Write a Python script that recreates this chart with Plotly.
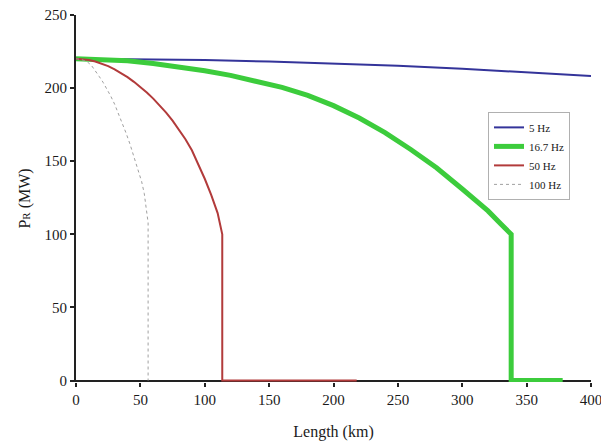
import plotly.graph_objects as go

# 5 Hz
x5 = [0, 50, 100, 150, 200, 250, 300, 350, 400]
y5 = [220, 219.8, 219.2, 218.2, 217, 215.3, 213.2, 211, 208.3]

# 16.7 Hz
x16 = [0, 20, 40, 60, 80, 100, 120, 140, 160, 180, 200, 220, 240, 260, 280,
       300, 320, 330, 338, 338, 378]
y16 = [220, 219.7, 218.7, 216.9, 214.6, 211.9, 208.7, 205, 200.5, 195, 188,
       179.5, 169.5, 158, 145.5, 131, 116, 107, 100, 0, 0]

# 50 Hz
x50 = [0, 5, 10, 15, 20, 25, 30, 35, 40, 45, 50, 55, 60, 65, 70, 75, 80, 85,
       90, 95, 100, 105, 110, 113.6, 113.6, 218]
y50 = [220, 219.8, 219.2, 218.2, 216.8, 215, 212.8, 210.3, 207.5, 204.3, 200.8,
       197, 192.8, 188.2, 183.2, 177.7, 171.7, 165, 157.5, 148, 138, 127, 114.5,
       100, 0, 0]

# 100 Hz
x100 = [0, 3, 6, 9, 12, 15, 18, 21, 24, 27, 30, 33, 36, 39, 42, 45, 48, 51,
        53, 55, 56, 56]
y100 = [220, 219.8, 219, 217.8, 215.5, 212, 208, 204, 199.5, 194.5, 189, 182.5,
        176, 169, 161.5, 153.5, 145.5, 136, 128, 115, 108, 0]

fig = go.Figure()
fig.add_trace(go.Scatter(x=x5, y=y5, mode="lines", name="5 Hz",
                         line=dict(color="#34349a", width=2)))
fig.add_trace(go.Scatter(x=x16, y=y16, mode="lines", name="16.7 Hz",
                         line=dict(color="#3ccc3c", width=5)))
fig.add_trace(go.Scatter(x=x50, y=y50, mode="lines", name="50 Hz",
                         line=dict(color="#b23b3b", width=2)))
fig.add_trace(go.Scatter(x=x100, y=y100, mode="lines", name="100 Hz",
                         line=dict(color="#a0a0a0", width=1, dash="dot")))

font_family = "Liberation Serif, DejaVu Serif, serif"
fig.update_layout(
    width=601, height=445,
    margin=dict(l=76, r=10, t=15, b=63, autoexpand=False),
    plot_bgcolor="white", paper_bgcolor="white",
    font=dict(family=font_family, size=15, color="#1a1a1a"),
    showlegend=True,
    legend=dict(x=0.80, y=0.736, xanchor="left", yanchor="top",
                bordercolor="#b0b0b0", borderwidth=1, bgcolor="white",
                font=dict(size=11, family=font_family, color="#1a1a1a"),
                tracegroupgap=0, itemwidth=30),
    xaxis=dict(range=[0, 400], tickvals=[0, 50, 100, 150, 200, 250, 300, 350, 400],
               automargin=False, ticklabeloverflow="allow", layer="below traces",
               showgrid=False, zeroline=False, showline=False,
               ticks="outside", ticklen=4, tickwidth=1.5, tickcolor="#222",
               title=dict(text="Length (km)", font=dict(size=16, family=font_family), standoff=18)),
    yaxis=dict(range=[-1, 250], tickvals=[0, 50, 100, 150, 200, 250],
               automargin=False, ticklabeloverflow="allow", layer="below traces",
               showgrid=False, zeroline=True, zerolinecolor="#222", zerolinewidth=2,
               showline=True, linecolor="#222", linewidth=2,
               ticks="outside", ticklen=4, tickwidth=1.5, tickcolor="#222",
               title=dict(text="P<span style='font-size:11px'>R</span> (MW)",
                          font=dict(size=16, family=font_family), standoff=10)),
)

fig.write_html("out.html", config={"displayModeBar": False},
               post_script="document.body.style.margin='0';")
